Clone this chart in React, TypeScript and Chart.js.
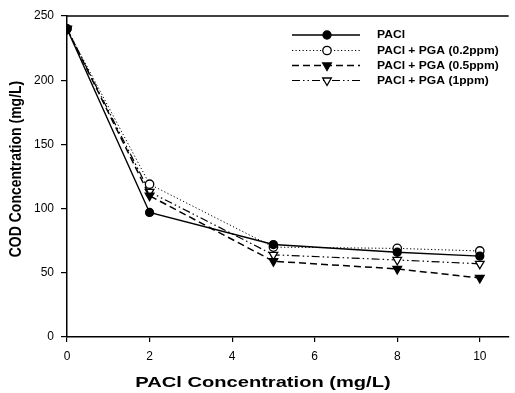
import React, { useEffect, useRef } from "react";
import { Chart, registerables } from "chart.js";

Chart.register(...registerables);

const xValues = [0, 2, 5, 8, 10];
const seriesLabels = ["PACl", "PACl + PGA (0.2ppm)", "PACl + PGA (0.5ppm)", "PACl + PGA (1ppm)"];
const pacl = [240, 97, 72, 66, 63];
const pga02 = [240, 119, 70, 69, 67];
const pga05 = [240, 110, 59, 53, 46];
const pga1 = [240, 113, 64, 60, 57];
const xTitle = "PACl Concentration (mg/L)";
const yTitle = "COD Concentration (mg/L)";

type Style = {
  dash: number[];
  width: number;
  shape: "circle" | "triangle";
  filled: boolean;
  radius: number;
};

const styles: Style[] = [
  { dash: [], width: 1.4, shape: "circle", filled: true, radius: 4 },
  { dash: [1.2, 2.3], width: 1, shape: "circle", filled: false, radius: 4.2 },
  { dash: [7, 4], width: 1.5, shape: "triangle", filled: true, radius: 5 },
  { dash: [8, 3, 1.5, 3, 1.5, 3], width: 1.2, shape: "triangle", filled: false, radius: 5 },
];

const allSeries = [pacl, pga02, pga05, pga1];

function drawMarker(ctx: CanvasRenderingContext2D, s: Style, x: number, y: number) {
  ctx.save();
  ctx.setLineDash([]);
  ctx.lineWidth = 1.3;
  ctx.strokeStyle = "#000";
  ctx.fillStyle = s.filled ? "#000" : "#fff";
  ctx.beginPath();
  if (s.shape === "circle") {
    ctx.arc(x, y, s.radius, 0, Math.PI * 2);
  } else {
    let rad = Math.PI;
    const r = s.radius;
    ctx.moveTo(x + Math.sin(rad) * r, y - Math.cos(rad) * r);
    rad += (2 * Math.PI) / 3;
    ctx.lineTo(x + Math.sin(rad) * r, y - Math.cos(rad) * r);
    rad += (2 * Math.PI) / 3;
    ctx.lineTo(x + Math.sin(rad) * r, y - Math.cos(rad) * r);
    ctx.closePath();
  }
  ctx.fill();
  ctx.stroke();
  ctx.restore();
}

const decorPlugin = {
  id: "decor",
  afterDraw(chart: any) {
    const ctx: CanvasRenderingContext2D = chart.ctx;
    const area = chart.chartArea;
    ctx.save();
    // top frame line
    ctx.strokeStyle = "#000";
    ctx.lineWidth = 1.5;
    ctx.beginPath();
    ctx.moveTo(area.left, area.top);
    ctx.lineTo(area.right, area.top);
    ctx.stroke();

    // legend
    const rows = [35, 50.5, 65.5, 80.5];
    const lx0 = 292;
    const lx1 = 360;
    const mx = 327;
    const tx = 377;
    styles.forEach((s, i) => {
      const y = rows[i];
      ctx.save();
      ctx.strokeStyle = "#000";
      ctx.lineWidth = s.width;
      ctx.setLineDash(s.dash);
      ctx.beginPath();
      ctx.moveTo(lx0, y);
      ctx.lineTo(lx1, y);
      ctx.stroke();
      ctx.restore();
      drawMarker(ctx, s, mx, y);
      ctx.save();
      ctx.fillStyle = "#000";
      ctx.font = "bold 11px 'Liberation Sans', Arial, sans-serif";
      ctx.textBaseline = "middle";
      ctx.textAlign = "left";
      ctx.translate(tx, y);
      ctx.scale(1.1, 1);
      ctx.fillText(seriesLabels[i], 0, 0);
      ctx.restore();
    });

    // axis titles
    ctx.fillStyle = "#000";
    ctx.font = "bold 15px 'Liberation Sans', Arial, sans-serif";
    ctx.textAlign = "center";
    ctx.textBaseline = "middle";
    ctx.save();
    ctx.translate(263, 383);
    ctx.scale(1.34, 1);
    ctx.fillText(xTitle, 0, 0);
    ctx.restore();

    ctx.save();
    ctx.font = "bold 14px 'Liberation Sans', Arial, sans-serif";
    ctx.translate(16, 169);
    ctx.rotate(-Math.PI / 2);
    ctx.scale(1, 1.2);
    ctx.fillText(yTitle, 0, 0);
    ctx.restore();

    ctx.restore();
  },
};

export default function App() {
  const ref = useRef<HTMLCanvasElement>(null);
  useEffect(() => {
    if (!ref.current) return;
    const datasets = allSeries.map((vals, i) => {
      const s = styles[i];
      return {
        label: seriesLabels[i],
        data: xValues.map((x, j) => ({ x, y: vals[j] })),
        borderColor: "#000",
        borderWidth: s.width,
        borderDash: s.dash,
        backgroundColor: "#000",
        pointStyle: s.shape,
        pointRotation: s.shape === "triangle" ? 180 : 0,
        pointRadius: s.radius,
        pointBackgroundColor: s.filled ? "#000" : "#fff",
        pointBorderColor: "#000",
        pointBorderWidth: 1.3,
        tension: 0,
        fill: false,
      };
    });
    const tickFont = { family: "'Liberation Sans', Arial, sans-serif", size: 12 };
    const chart = new Chart(ref.current, {
      type: "line",
      data: { datasets },
      plugins: [decorPlugin],
      options: {
        animation: false,
        responsive: false,
        devicePixelRatio: 1,
        layout: { padding: { left: 0, right: 2, top: 16, bottom: 0 } },
        plugins: { legend: { display: false }, tooltip: { enabled: false } },
        scales: {
          x: {
            type: "linear",
            min: 0,
            max: 10.7,
            afterFit: (scale: any) => {
              scale.height = 56;
            },
            ticks: { stepSize: 2, includeBounds: false, color: "#000", font: tickFont, padding: 7, maxRotation: 0 },
            grid: { display: true, drawOnChartArea: false, drawTicks: true, tickLength: 5, color: "#000", lineWidth: 1.2 },
            border: { display: true, color: "#000", width: 1.5 },
          },
          y: {
            type: "linear",
            min: 0,
            max: 250,
            afterFit: (scale: any) => {
              scale.width = 67;
            },
            ticks: { stepSize: 50, color: "#000", font: tickFont, padding: 7 },
            grid: { display: true, drawOnChartArea: false, drawTicks: true, tickLength: 6, color: "#000", lineWidth: 1.2 },
            border: { display: true, color: "#000", width: 1.5 },
          },
        },
      } as any,
    });
    return () => chart.destroy();
  }, []);
  return (
    <div style={{ position: "absolute", left: 0, top: 0, width: 515, height: 393, background: "#fff" }}>
      <canvas ref={ref} width={515} height={393} style={{ width: 515, height: 393 }} />
    </div>
  );
}
